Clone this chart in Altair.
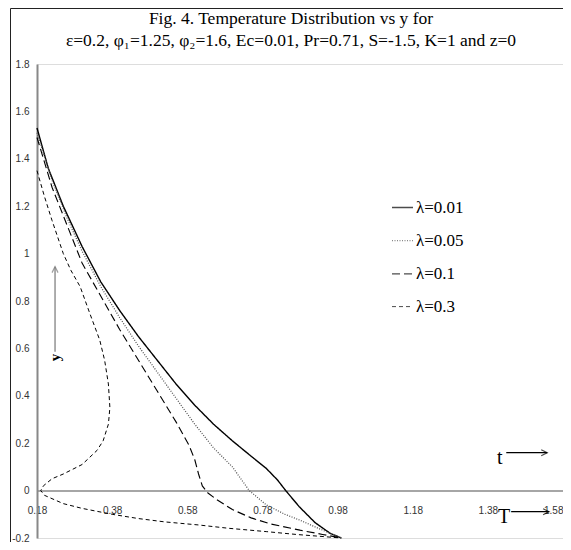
import altair as alt
import pandas as pd

lam_labels = ["λ=0.01", "λ=0.05", "λ=0.1", "λ=0.3"]

T_a = [0.18, 0.21, 0.25, 0.30, 0.35, 0.40, 0.45, 0.50, 0.55, 0.60, 0.65, 0.70, 0.75, 0.79, 0.82, 0.842, 0.878, 0.92, 0.96, 0.99]
Y_a = [1.53, 1.36, 1.20, 1.03, 0.88, 0.76, 0.65, 0.55, 0.45, 0.36, 0.28, 0.21, 0.145, 0.094, 0.045, 0.0, -0.068, -0.135, -0.18, -0.20]

T_b = [0.18, 0.22, 0.26, 0.30, 0.35, 0.40, 0.45, 0.50, 0.55, 0.60, 0.65, 0.70, 0.745, 0.79, 0.84, 0.88, 0.93, 0.99]
Y_b = [1.51, 1.31, 1.15, 1.01, 0.86, 0.73, 0.61, 0.50, 0.39, 0.28, 0.18, 0.10, 0.0, -0.06, -0.10, -0.125, -0.16, -0.20]

T_c = [0.18, 0.22, 0.26, 0.30, 0.35, 0.40, 0.45, 0.50, 0.55, 0.585, 0.60, 0.61, 0.62, 0.635, 0.66, 0.70, 0.75, 0.80, 0.88, 0.94, 0.99]
Y_c = [1.49, 1.28, 1.12, 0.96, 0.82, 0.68, 0.55, 0.42, 0.29, 0.19, 0.13, 0.07, 0.02, -0.01, -0.04, -0.08, -0.115, -0.14, -0.167, -0.185, -0.20]

T_d = [0.18, 0.20, 0.22, 0.25, 0.27, 0.295, 0.32, 0.347, 0.36, 0.37, 0.374, 0.37, 0.356, 0.34, 0.30, 0.25, 0.22, 0.197, 0.19, 0.20, 0.25, 0.30, 0.38, 0.45, 0.52, 0.61, 0.69, 0.79, 0.87, 0.95, 0.99]
Y_d = [1.35, 1.24, 1.14, 1.00, 0.93, 0.86, 0.75, 0.635, 0.55, 0.45, 0.35, 0.28, 0.21, 0.17, 0.11, 0.07, 0.05, 0.02, 0.0, -0.02, -0.055, -0.075, -0.10, -0.118, -0.132, -0.145, -0.159, -0.173, -0.185, -0.195, -0.20]

x_ticks = [0.18, 0.38, 0.58, 0.78, 0.98, 1.18, 1.38, 1.58]
y_ticks = [-0.2, 0, 0.2, 0.4, 0.6, 0.8, 1, 1.2, 1.4, 1.6, 1.8]

title_1 = "Fig. 4. Temperature Distribution vs y for"
title_2 = "ε=0.2, φ₁=1.25, φ₂=1.6, Ec=0.01, Pr=0.71, S=-1.5, K=1 and z=0"

rows = []
for lab, ts, ys in zip(lam_labels, [T_a, T_b, T_c, T_d], [Y_a, Y_b, Y_c, Y_d]):
    for i, (t, y) in enumerate(zip(ts, ys)):
        rows.append({"lam": lab, "idx": i, "T": t, "y": y})
df = pd.DataFrame(rows)

W, H = 526, 474
PT = 56  # top padding (plot top at page y = 8 + PT)
xs = alt.Scale(domain=[0.18, 1.58], nice=False, zero=False)
ys_ = alt.Scale(domain=[-0.2, 1.8], nice=False, zero=False)
zero_offset = -H * 0.2 / 2.0

tick_font = "'Liberation Sans Narrow', 'Liberation Sans', Arial"

leg = alt.Legend(title=None, orient="none", legendX=354, legendY=132,
                 symbolType="stroke", symbolSize=441, symbolStrokeWidth=1.2,
                 labelFont="Liberation Serif", labelFontSize=17, labelColor="black",
                 labelOffset=2, rowPadding=13.2, padding=0)

lines = alt.Chart(df).mark_line().encode(
    x=alt.X("T:Q", scale=xs, axis=alt.Axis(
        values=x_ticks, labelExpr="'' + datum.value", orient="bottom", offset=zero_offset,
        domainColor="#888888", domainWidth=1.5, ticks=False, labelPadding=14.5,
        labelAlign={"condition": {"test": "datum.value > 1.5", "value": "right"}, "value": "center"},
        labelFont=tick_font, labelFontSize=10, labelColor="#333333",
        title=None, grid=False, labelFlush=False, labelOverlap=False, labelBound=False)),
    y=alt.Y("y:Q", scale=ys_, axis=alt.Axis(
        values=y_ticks, labelExpr="'' + datum.value", domainColor="#888888", domainWidth=2,
        ticks=False, labelPadding=8, labelFont=tick_font, labelFontSize=10,
        labelColor="#333333", title=None, grid=False, labelFlush=False, labelOverlap=False)),
    color=alt.Color("lam:N", scale=alt.Scale(domain=lam_labels, range=["#000000", "#555555", "#000000", "#000000"]), legend=leg),
    strokeDash=alt.StrokeDash("lam:N", scale=alt.Scale(domain=lam_labels, range=[[1, 0], [1, 1.5], [8, 4], [4, 3]]), legend=leg),
    strokeWidth=alt.StrokeWidth("lam:N", scale=alt.Scale(domain=lam_labels, range=[1.4, 1.0, 1.3, 1.2]), legend=None),
    order="idx:Q",
)

# annotations (arrows and letters)
ann_rules = pd.DataFrame({
    "x": [1.429, 1.442, 0.228],
    "x2": [1.538, 1.543, 0.228],
    "y": [0.160, -0.089, 0.945],
    "y2": [0.160, -0.089, 0.586],
    "c": ["#000000", "#000000", "#777777"],
})
rules = alt.Chart(ann_rules).mark_rule(strokeWidth=1.2).encode(
    x="x:Q", x2="x2", y="y:Q", y2="y2", color=alt.Color("c:N", scale=None))

heads = pd.DataFrame({
    "x": [1.538, 1.543, 0.228],
    "y": [0.160, -0.089, 0.945],
    "shape": ["M-1,-0.5L0,0L-1,0.5", "M-1,-0.5L0,0L-1,0.5", "M-0.5,1L0,0L0.5,1"],
    "c": ["#000000", "#000000", "#777777"],
})
head_marks = alt.Chart(heads).mark_point(size=144, filled=False, strokeWidth=1.2).encode(
    x="x:Q", y="y:Q", shape=alt.Shape("shape:N", scale=None), color=alt.Color("c:N", scale=None))

txt = pd.DataFrame({"x": [1.412, 1.423], "y": [0.136, -0.110], "t": ["t", "T"]})
letters = alt.Chart(txt).mark_text(font="Liberation Serif", fontSize=20, color="black").encode(
    x="x:Q", y="y:Q", text="t:N")

ylab = alt.Chart(pd.DataFrame({"x": [0.228], "y": [0.562], "t": ["y"]})).mark_text(
    font="Liberation Serif", fontSize=15, fontWeight="bold", angle=270, color="black").encode(
    x="x:Q", y="y:Q", text="t:N")

titles = alt.Chart(pd.DataFrame({"t": [title_1, title_2], "yy": [18.5 - 8 - PT, 41 - 8 - PT]})).mark_text(
    font="Liberation Serif", fontSize=17.5, color="black", baseline="middle").encode(
    x=alt.value(254), y=alt.Y("yy:Q", scale=None), text="t:N")

frame = alt.Chart(pd.DataFrame({"a": [0]})).mark_rect(fill=None, stroke="#222222", strokeWidth=1).encode(
    x=alt.value(-26.5), x2=alt.value(540), y=alt.value(0.5 - PT), y2=alt.value(H + 20))

chart = alt.layer(lines, rules, head_marks, letters, ylab, titles, frame).properties(
    width=W, height=H,
    padding={"left": 29, "top": PT, "right": 0, "bottom": 4},
    autosize=alt.AutoSizeParams(type="none"),
).configure_view(stroke="black", strokeWidth=1.5).configure(background="white")

chart.save("out.html", embed_options={"renderer": "svg", "actions": False})
